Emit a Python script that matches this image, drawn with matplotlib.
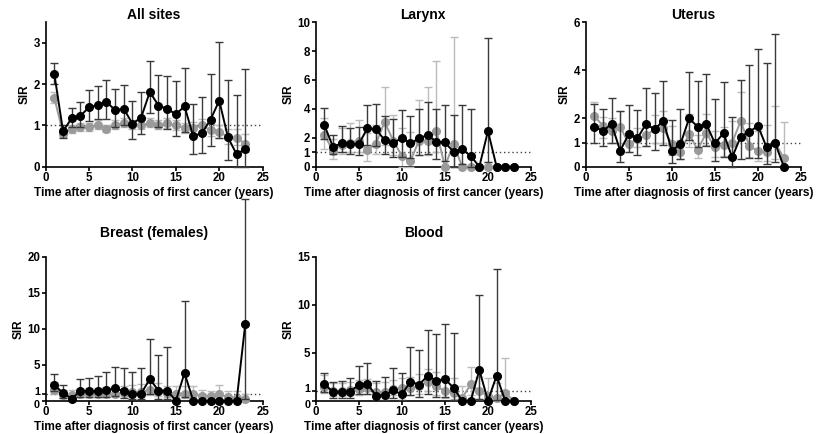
import numpy as np
import matplotlib
matplotlib.use("Agg")
import matplotlib.pyplot as plt
from matplotlib.transforms import ScaledTranslation

plt.rcParams['font.family'] = ['Liberation Sans', 'DejaVu Sans']
plt.rcParams['font.weight'] = 'bold'

### Data ###
years = list(range(1, 24))

# All sites
all_blk = [2.24, 0.86, 1.17, 1.23, 1.44, 1.49, 1.57, 1.37, 1.40, 1.04, 1.19, 1.81, 1.48, 1.40, 1.27, 1.46, 0.74, 0.81, 1.14, 1.60, 0.71, 0.30, 0.43]
all_blk_lo = [2.0, 0.70, 0.95, 0.95, 1.10, 1.15, 1.15, 0.97, 1.00, 0.68, 0.78, 1.30, 0.95, 0.90, 0.75, 0.83, 0.30, 0.33, 0.50, 0.70, 0.15, 0.0, 0.0]
all_blk_hi = [2.5, 1.00, 1.43, 1.57, 1.85, 1.95, 2.10, 1.88, 1.97, 1.58, 1.80, 2.55, 2.22, 2.19, 2.08, 2.38, 1.52, 1.68, 2.24, 3.03, 2.10, 1.73, 2.37]
all_gry = [1.67, 0.80, 0.90, 0.95, 0.95, 1.00, 0.92, 1.02, 1.05, 1.02, 1.00, 1.05, 1.00, 1.05, 1.00, 0.93, 0.93, 1.00, 0.88, 0.85, 0.72, 0.70, 0.55]
all_gry_lo = [1.55, 0.72, 0.82, 0.87, 0.87, 0.90, 0.83, 0.92, 0.95, 0.92, 0.90, 0.95, 0.90, 0.93, 0.88, 0.82, 0.80, 0.87, 0.75, 0.70, 0.55, 0.52, 0.35]
all_gry_hi = [1.80, 0.90, 1.00, 1.05, 1.05, 1.12, 1.02, 1.13, 1.17, 1.14, 1.12, 1.17, 1.12, 1.18, 1.13, 1.06, 1.07, 1.15, 1.03, 1.02, 0.90, 0.90, 0.80]

# Larynx
lar_blk = [2.88, 1.38, 1.61, 1.56, 1.56, 2.65, 2.59, 1.84, 1.61, 2.00, 1.61, 1.96, 2.19, 1.73, 1.68, 1.03, 1.20, 0.74, 0, 2.47, 0, 0, 0]
lar_blk_lo = [1.9, 0.9, 1.0, 0.9, 0.8, 1.5, 1.4, 0.9, 0.7, 0.7, 0.6, 0.8, 0.9, 0.5, 0.4, 0.0, 0.2, 0.0, 0, 0.3, 0, 0, 0]
lar_blk_hi = [4.03, 2.2, 2.8, 2.7, 2.75, 4.3, 4.35, 3.5, 3.3, 3.9, 3.5, 4.0, 4.5, 4.0, 4.3, 3.6, 4.25, 4.0, 0, 8.9, 0, 0, 0]
lar_gry = [2.2, 1.1, 1.5, 1.65, 1.8, 1.15, 1.6, 3.1, 1.8, 0.75, 0.4, 1.8, 1.8, 2.5, 0, 1.6, 0, 0, 0, 0, 0, 0, 0]
lar_gry_lo = [1.2, 0.5, 0.9, 1.0, 1.0, 0.4, 0.9, 1.5, 0.8, 0.0, 0.0, 0.8, 0.8, 1.0, 0, 0.0, 0, 0, 0, 0, 0, 0, 0]
lar_gry_hi = [3.4, 1.9, 2.7, 3.0, 3.2, 2.3, 2.9, 5.5, 3.6, 2.7, 2.4, 4.6, 5.5, 7.3, 0, 9.0, 0, 0, 0, 0.3, 0, 0, 0]

# Uterus
ute_blk = [1.66, 1.48, 1.77, 0.66, 1.36, 1.18, 1.77, 1.55, 1.91, 0.66, 0.94, 2.00, 1.66, 1.77, 0.97, 1.39, 0.39, 1.25, 1.45, 1.69, 0.80, 0.97, 0]
ute_blk_lo = [1.0, 0.85, 1.0, 0.2, 0.6, 0.5, 0.85, 0.7, 0.9, 0.15, 0.3, 1.1, 0.8, 0.85, 0.25, 0.4, 0.0, 0.3, 0.35, 0.35, 0.1, 0.2, 0]
ute_blk_hi = [2.6, 2.4, 2.85, 2.3, 2.55, 2.35, 3.25, 3.05, 3.55, 1.95, 2.4, 3.95, 3.55, 3.85, 2.8, 3.5, 2.05, 3.6, 4.2, 4.9, 4.3, 5.5, 0]
ute_gry = [2.1, 1.7, 1.5, 1.65, 0.95, 1.15, 1.3, 1.55, 1.6, 0.95, 0.6, 1.35, 0.7, 1.4, 0.8, 0.9, 1.0, 1.9, 0.85, 0.65, 0.6, 1.0, 0.35]
ute_gry_lo = [1.6, 1.2, 1.0, 1.0, 0.6, 0.8, 0.85, 1.0, 1.0, 0.5, 0.3, 0.8, 0.35, 0.9, 0.4, 0.45, 0.5, 1.2, 0.4, 0.25, 0.25, 0.3, 0.0]
ute_gry_hi = [2.7, 2.05, 2.0, 2.3, 1.5, 1.6, 1.8, 2.15, 2.3, 1.7, 1.1, 2.2, 1.3, 2.2, 1.5, 1.65, 1.9, 3.1, 1.8, 1.5, 1.75, 2.5, 1.85]

# Breast (females)
bre_blk = [2.18, 1.07, 0.28, 1.35, 1.35, 1.35, 1.45, 1.70, 1.35, 0.95, 1.00, 3.00, 1.40, 1.40, 0, 3.85, 0, 0, 0, 0, 0, 0, 10.7]
bre_blk_lo = [1.4, 0.4, 0.0, 0.5, 0.5, 0.5, 0.5, 0.6, 0.4, 0.2, 0.2, 1.0, 0.2, 0.2, 0, 0.5, 0, 0, 0, 0, 0, 0, 0.3]
bre_blk_hi = [3.7, 2.2, 0.28, 3.0, 3.1, 3.4, 4.0, 4.7, 4.5, 4.0, 4.5, 8.6, 6.3, 7.4, 0, 13.8, 0, 0, 0, 0, 0, 0, 28]
bre_gry = [1.5, 0.8, 0.8, 0.9, 1.0, 1.0, 1.0, 1.0, 1.1, 1.2, 1.2, 1.5, 1.3, 1.1, 1.0, 1.0, 0.9, 0.7, 0.6, 0.9, 0.5, 0.4, 0.3]
bre_gry_lo = [0.9, 0.4, 0.4, 0.5, 0.5, 0.5, 0.5, 0.5, 0.6, 0.6, 0.6, 0.8, 0.7, 0.5, 0.4, 0.4, 0.3, 0.2, 0.1, 0.3, 0.1, 0.0, 0.0]
bre_gry_hi = [2.6, 1.5, 1.5, 1.6, 1.8, 1.8, 1.9, 1.9, 2.0, 2.2, 2.3, 2.6, 2.4, 2.0, 2.0, 2.1, 2.0, 1.5, 1.4, 2.2, 1.3, 1.3, 1.0]

# Blood
blo_blk = [1.74, 0.94, 0.94, 0.94, 1.67, 1.77, 0.52, 0.59, 1.08, 0.66, 2.00, 1.67, 2.60, 2.10, 2.26, 1.35, 0, 0, 3.2, 0, 2.6, 0, 0]
blo_blk_lo = [0.9, 0.3, 0.3, 0.3, 0.7, 0.7, 0.1, 0.1, 0.3, 0.1, 0.6, 0.4, 0.7, 0.4, 0.4, 0.1, 0, 0, 0.2, 0, 0.1, 0, 0]
blo_blk_hi = [2.9, 2.0, 2.1, 2.35, 3.6, 3.95, 2.1, 2.5, 3.4, 2.9, 5.6, 5.3, 7.4, 7.0, 8.0, 7.1, 0, 0, 11.0, 0, 13.7, 0, 0]
blo_gry = [1.4, 1.0, 1.0, 1.1, 1.2, 1.3, 0.9, 0.9, 1.2, 1.3, 1.3, 1.5, 2.0, 1.5, 1.0, 0.8, 0.3, 1.7, 1.0, 0.5, 0.3, 0.8, 0]
blo_gry_lo = [0.8, 0.5, 0.5, 0.6, 0.6, 0.7, 0.4, 0.4, 0.6, 0.6, 0.6, 0.7, 1.0, 0.6, 0.3, 0.2, 0.0, 0.6, 0.2, 0.0, 0.0, 0.1, 0]
blo_gry_hi = [2.7, 1.8, 1.8, 2.0, 2.2, 2.3, 1.8, 1.9, 2.2, 2.4, 2.5, 2.8, 3.3, 3.0, 2.6, 2.4, 1.5, 3.5, 2.5, 2.4, 1.8, 4.5, 0]

### Functions ###

def draw_series(ax, y, lo, hi, col, ecol, z):
    y = np.array(y)
    err = [y - np.array(lo), np.array(hi) - y]
    eb = ax.errorbar(years, y, yerr=err, fmt='-o', color=col, ecolor=ecol,
                     elinewidth=1.0, capsize=3, capthick=1.0, markersize=5.5,
                     linewidth=1.4, zorder=z, clip_on=False)
    for part in eb.lines[1] + eb.lines[2]:
        part.set_clip_on(False)
    for part in eb.lines[2]:
        part.set_zorder(z - 1)


def panel(rect, title, ymax, yticks, blk, gry, tpad):
    ax = fig.add_axes(rect)
    draw_series(ax, gry[0], gry[1], gry[2], '#9a9a9a', '#bcbcbc', 3)
    draw_series(ax, blk[0], blk[1], blk[2], 'black', '#3a3a3a', 5)
    ax.plot([0, 25], [1, 1], linestyle=(0, (1, 2)), color='#444444', linewidth=1.0, zorder=1)
    ax.set_xlim(0, 25)
    ax.set_ylim(0, ymax)
    ax.set_xticks([0, 5, 10, 15, 20, 25])
    ax.set_yticks(yticks)
    ax.spines['top'].set_visible(False)
    ax.spines['right'].set_visible(False)
    for s in ['left', 'bottom']:
        ax.spines[s].set_linewidth(1.2)
    ax.tick_params(direction='out', length=3, width=1.2, labelsize=8.3, pad=1)
    ax.set_title(title, fontsize=10, fontweight='bold', pad=tpad)
    ax.set_ylabel('SIR', fontsize=8.5, fontweight='bold', labelpad=2)
    ax.set_xlabel('Time after diagnosis of first cancer (years)', fontsize=8.6, fontweight='bold', labelpad=2)
    return ax


def spread_low_ticks(ax):
    # 0 and 1 sit very close on tall scales; nudge them apart a little
    labs = ax.get_yticklabels()
    labs[0].set_fontsize(7.8)
    labs[1].set_fontsize(7.8)
    labs[0].set_transform(labs[0].get_transform() + ScaledTranslation(0, -2.5 / 72, fig.dpi_scale_trans))
    labs[1].set_transform(labs[1].get_transform() + ScaledTranslation(0, 2.0 / 72, fig.dpi_scale_trans))

### Figure ###

fig = plt.figure(figsize=(8.2, 4.34), dpi=100)

panel([0.0557, 0.616, 0.2646, 0.333], 'All sites', 3.5, [0, 1, 2, 3],
      (all_blk, all_blk_lo, all_blk_hi), (all_gry, all_gry_lo, all_gry_hi), 2)
panel([0.385, 0.616, 0.2626, 0.333], 'Larynx', 10, [0, 1, 2, 4, 6, 8, 10],
      (lar_blk, lar_blk_lo, lar_blk_hi), (lar_gry, lar_gry_lo, lar_gry_hi), 2)
panel([0.7143, 0.616, 0.2626, 0.333], 'Uterus', 6, [0, 1, 2, 4, 6],
      (ute_blk, ute_blk_lo, ute_blk_hi), (ute_gry, ute_gry_lo, ute_gry_hi), 2)
ax4 = panel([0.0557, 0.0767, 0.2646, 0.3318], 'Breast (females)', 20, [0, 1, 5, 10, 15, 20],
            (bre_blk, bre_blk_lo, bre_blk_hi), (bre_gry, bre_gry_lo, bre_gry_hi), 14)
ax5 = panel([0.385, 0.0767, 0.2626, 0.3318], 'Blood', 15, [0, 1, 5, 10, 15],
            (blo_blk, blo_blk_lo, blo_blk_hi), (blo_gry, blo_gry_lo, blo_gry_hi), 14)
spread_low_ticks(ax4)
spread_low_ticks(ax5)

fig.savefig('out.png', dpi=100)
